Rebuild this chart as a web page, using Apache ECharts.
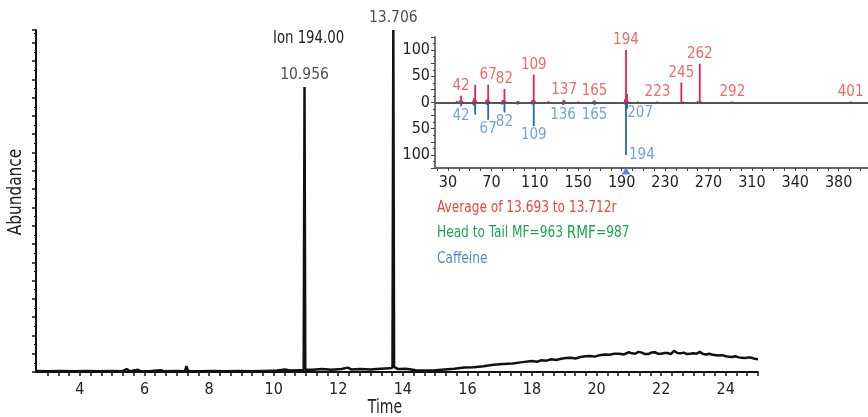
<!DOCTYPE html>
<html>
<head>
<meta charset="utf-8">
<script src="https://cdn.jsdelivr.net/npm/echarts@6/dist/echarts.min.js"></script>
<style>
  html, body { margin: 0; padding: 0; background: #fff; }
  #chart { width: 868px; height: 417px; }
</style>
</head>
<body>
<div id="chart"></div>
<script>
// chromatogram (Ion 194.00)
const chromTime = [
  2.64, 3.0, 3.4, 3.8, 4.2, 4.6, 5.0, 5.3, 5.45, 5.55, 5.8, 5.9, 6.2, 6.5, 6.6, 7.0, 7.25, 7.3, 7.35,
  7.7, 8.1, 8.5, 8.9, 9.3, 9.7, 10.1, 10.35, 10.5, 10.8, 10.93, 10.956, 10.98, 11.2, 11.5, 11.8,
  12.1, 12.3, 12.4, 12.7, 13.0, 13.3, 13.6, 13.68, 13.706, 13.73, 13.85, 14.1, 14.4, 14.7, 15.0,
  15.3, 15.6, 15.9, 16.2, 16.5, 16.8, 17.1, 17.4, 17.7, 18.0, 18.15, 18.3, 18.45, 18.6, 18.75,
  18.9, 19.05, 19.2, 19.35, 19.5, 19.65, 19.8, 19.95, 20.1, 20.25, 20.4, 20.55, 20.7, 20.85, 21.0,
  21.1, 21.2, 21.3, 21.4, 21.5, 21.6, 21.7, 21.8, 21.9, 22.0, 22.1, 22.2, 22.3, 22.4, 22.5, 22.6,
  22.7, 22.8, 22.9, 23.0, 23.1, 23.2, 23.3, 23.4, 23.5, 23.6, 23.7, 23.8, 23.9, 24.0, 24.1, 24.2,
  24.3, 24.4, 24.5, 24.6, 24.7, 24.8, 24.9, 25.0
];
const chromAbund = [
  0.3, 0.2, 0.3, 0.2, 0.3, 0.2, 0.3, 0.2, 0.8, 0.2, 0.6, 0.2, 0.3, 0.5, 0.2, 0.3, 0.2, 1.6, 0.3,
  0.2, 0.3, 0.2, 0.3, 0.2, 0.3, 0.4, 0.7, 0.4, 0.5, 0.5, 77.9, 0.6, 0.6, 0.8, 0.6,
  0.8, 1.2, 0.7, 0.8, 0.7, 0.9, 1.0, 1.2, 93.5, 1.4, 0.8, 0.9, 0.5, 0.4, 0.5,
  0.7, 0.9, 1.2, 1.3, 1.6, 2.0, 2.2, 2.3, 2.7, 3.0, 2.8, 3.2, 3.1, 3.5, 3.3,
  3.6, 3.8, 3.9, 3.7, 4.1, 4.3, 4.4, 4.2, 4.6, 4.8, 4.7, 5.0, 5.0, 4.8, 5.4,
  5.1, 5.0, 5.5, 5.3, 4.9, 4.9, 5.3, 5.4, 5.0, 5.0, 5.2, 5.2, 4.9, 5.8, 5.2, 5.1,
  5.3, 4.9, 5.0, 5.1, 5.0, 5.5, 4.9, 4.8, 5.0, 4.7, 4.6, 4.5, 4.6, 4.3, 4.2, 4.1,
  4.3, 4.0, 3.9, 3.8, 4.0, 3.9, 3.6, 3.5
];
const peakTimes = [10.956, 13.706];
const timeTicks = [4, 6, 8, 10, 12, 14, 16, 18, 20, 22, 24];

// mass spectrum, head (sample) and tail (library, Caffeine)
const headMz = [38, 39, 41, 42, 43, 53, 54, 55, 56, 65, 66, 67, 68, 80, 81, 82, 83, 94, 95, 107, 108, 109, 110,
  122, 123, 136, 137, 138, 150, 164, 165, 166, 178, 193, 194, 195, 196, 205, 215, 223, 238, 245, 247, 260,
  262, 263, 275, 292, 401];
const headInt = [3, 2, 4, 13, 3, 4, 8, 34, 4, 4, 6, 34, 3, 4, 5, 26, 3, 3, 2, 3, 5, 53, 4,
  2, 2, 4, 5, 2, 2, 3, 4, 2, 1, 6, 100, 16, 2, 2, 1, 2, 1, 38, 2, 3,
  74, 2, 1, 2, 2];
const tailMz = [38, 40, 42, 53, 54, 55, 66, 67, 68, 80, 81, 82, 94, 95, 108, 109, 110, 122, 136, 137, 150,
  164, 165, 193, 194, 195, 207];
const tailInt = [-3, -2, -7, -4, -6, -23, -5, -33, -3, -4, -3, -19, -4, -3, -4, -45, -3, -2, -5, -3, -2,
  -2, -5, -4, -100, -12, -3];
const headLabelMz = [42, 67, 82, 109, 137, 165, 194, 223, 245, 262, 292, 401];
const tailLabelMz = [42, 67, 82, 109, 136, 165, 207];
const tailSideLabelMz = [194];
const markerMz = [194];
const mzTickVals = [30, 70, 110, 150, 190, 230, 270, 310, 350, 390];
const mzTickLabels = ['30', '70', '110', '150', '190', '230', '270', '310', '340', '380'];

const FONT = "'Liberation Sans Narrow', 'DejaVu Sans Condensed', 'Roboto', sans-serif";
const RED = '#f0443a';
const RED_STEM = '#e8234c';
const BLUE = '#4f8bd6';
const BLUE_STEM = '#2464b4';
const NARROW = 0.82; // squeeze free texts toward the condensed face of the original

// minor tick positions
const timeMinor = [];
for (let t = 3; t <= 25.001; t += 1 / 3) timeMinor.push(+t.toFixed(3));
const mzMinor = [];
for (let m = 20; m <= 410; m += 10) mzMinor.push(m);

const chromData = chromTime.map((t, i) => [t, chromAbund[i]]);
const peakData = peakTimes.map(t => [t, chromAbund[chromTime.indexOf(t)]]);

const stem = (color, width) => (params, api) => {
  const p0 = api.coord([api.value(0), 0]);
  const p1 = api.coord([api.value(0), api.value(1)]);
  return {
    type: 'line',
    shape: { x1: p0[0], y1: p0[1], x2: p1[0], y2: p1[1] },
    style: { stroke: color, lineWidth: width }
  };
};

const chart = echarts.init(document.getElementById('chart'));
chart.setOption({
  animation: false,
  textStyle: { fontFamily: FONT },
  grid: [
    { left: 36, right: 110, top: 30, bottom: 45 },
    { left: 435, right: 0, top: 37, bottom: 249 }
  ],
  xAxis: [
    {
      type: 'value', gridIndex: 0, min: 2.64, max: 25,
      axisLine: { onZero: false, lineStyle: { color: '#111', width: 2 } },
      axisTick: { customValues: timeMinor, length: 4, lineStyle: { color: '#111', width: 1.5 } },
      axisLabel: {
        customValues: timeTicks, fontSize: 16, color: '#222', margin: 10, fontFamily: FONT
      },
      splitLine: { show: false }
    },
    {
      type: 'value', gridIndex: 1, min: 18, max: 417,
      axisLine: { onZero: false, lineStyle: { color: '#666', width: 2 } },
      axisTick: { customValues: mzMinor, length: 3, lineStyle: { color: '#444' } },
      axisLabel: {
        customValues: mzTickVals, fontSize: 16, color: '#222', margin: 7, fontFamily: FONT,
        formatter: v => mzTickLabels[mzTickVals.indexOf(v)]
      },
      splitLine: { show: false }
    }
  ],
  yAxis: [
    {
      type: 'value', gridIndex: 0, min: 0, max: 93.5, interval: 5,
      axisLine: { show: true, lineStyle: { color: '#111', width: 2 } },
      axisTick: { show: true, length: 4, lineStyle: { color: '#111', width: 1.5 } },
      minorTick: { show: true, splitNumber: 2, length: 2, lineStyle: { color: '#111' } },
      axisLabel: { show: false },
      splitLine: { show: false }
    },
    {
      type: 'value', gridIndex: 1, min: -125, max: 125, interval: 25,
      axisLine: { show: true, lineStyle: { color: '#444', width: 1.5 } },
      axisTick: { show: true, length: 4, lineStyle: { color: '#444' } },
      minorTick: { show: true, splitNumber: 2, length: 2, lineStyle: { color: '#444' } },
      axisLabel: {
        fontSize: 16, color: '#222', margin: 5, fontFamily: FONT,
        formatter: v => (v % 50 === 0 && Math.abs(v) <= 100 ? String(Math.abs(v)) : '')
      },
      splitLine: { show: false }
    }
  ],
  series: [
    {
      type: 'line', xAxisIndex: 0, yAxisIndex: 0, data: chromData,
      showSymbol: false, symbol: 'none',
      lineStyle: { color: '#111', width: 2.5 }
    },
    {
      type: 'scatter', xAxisIndex: 0, yAxisIndex: 0, data: peakData,
      symbolSize: 0,
      label: {
        show: true, position: 'top', distance: 4, fontSize: 15.5, color: '#222', fontFamily: FONT,
        formatter: p => p.value[0].toFixed(3)
      }
    },
    {
      type: 'custom', xAxisIndex: 1, yAxisIndex: 1, renderItem: stem(RED_STEM, 1.8),
      data: headMz.map((m, i) => [m, headInt[i]]),
      markLine: {
        silent: true, symbol: 'none', label: { show: false },
        lineStyle: { color: '#555', width: 2, type: 'solid' },
        data: [{ yAxis: 0 }]
      }
    },
    {
      type: 'custom', xAxisIndex: 1, yAxisIndex: 1, renderItem: stem(BLUE_STEM, 1.8),
      data: tailMz.map((m, i) => [m, tailInt[i]])
    },
    {
      type: 'scatter', xAxisIndex: 1, yAxisIndex: 1, symbolSize: 0,
      data: headLabelMz.map(m => [m, headInt[headMz.indexOf(m)]]),
      label: {
        show: true, position: 'top', distance: 2, fontSize: 15, color: RED, fontFamily: FONT,
        formatter: p => String(p.value[0])
      }
    },
    {
      type: 'scatter', xAxisIndex: 1, yAxisIndex: 1, symbolSize: 0,
      data: tailLabelMz.map(m => [m, tailInt[tailMz.indexOf(m)]]),
      label: {
        show: true, position: 'bottom', distance: 2, fontSize: 15, color: BLUE, fontFamily: FONT,
        formatter: p => String(p.value[0])
      }
    },
    {
      type: 'scatter', xAxisIndex: 1, yAxisIndex: 1, symbolSize: 0,
      data: tailSideLabelMz.map(m => [m, tailInt[tailMz.indexOf(m)]]),
      label: {
        show: true, position: 'right', distance: 3, fontSize: 15, color: BLUE, fontFamily: FONT,
        formatter: p => String(p.value[0])
      }
    },
    {
      type: 'scatter', xAxisIndex: 1, yAxisIndex: 1, clip: false,
      data: markerMz.map(m => [m, -125]),
      symbol: 'triangle', symbolSize: [9, 7], symbolOffset: [0, 3],
      itemStyle: { color: '#2b6cc0' }
    }
  ],
  graphic: [
    { type: 'text', x: 273, y: 38, scaleX: NARROW, style: { text: 'Ion 194.00', font: '18px ' + FONT, fill: '#222', verticalAlign: 'middle' } },
    { type: 'text', x: 385, y: 408, scaleX: NARROW, style: { text: 'Time', font: '19px ' + FONT, fill: '#222', align: 'center', verticalAlign: 'middle' } },
    { type: 'text', x: 16, y: 192, rotation: Math.PI / 2, scaleX: NARROW * 1.04, style: { text: 'Abundance', font: '20px ' + FONT, fill: '#222', align: 'center', verticalAlign: 'middle' } },
    { type: 'text', x: 437, y: 208, scaleX: NARROW, style: { text: 'Average of 13.693 to 13.712r', font: '16.5px ' + FONT, fill: RED, verticalAlign: 'middle' } },
    {
      type: 'text', x: 437, y: 233, scaleX: NARROW,
      style: {
        text: '{a|Head to Tail MF=963 }{b|RMF}{a|=987}',
        verticalAlign: 'middle',
        rich: {
          a: { fontSize: 16.5, fontFamily: FONT, fill: '#1aa84c', color: '#1aa84c' },
          b: { fontSize: 18.5, fontFamily: FONT, fill: '#1aa84c', color: '#1aa84c' }
        }
      }
    },
    { type: 'text', x: 437, y: 259, scaleX: NARROW, style: { text: 'Caffeine', font: '16.5px ' + FONT, fill: BLUE, verticalAlign: 'middle' } }
  ]
});
</script>
</body>
</html>
